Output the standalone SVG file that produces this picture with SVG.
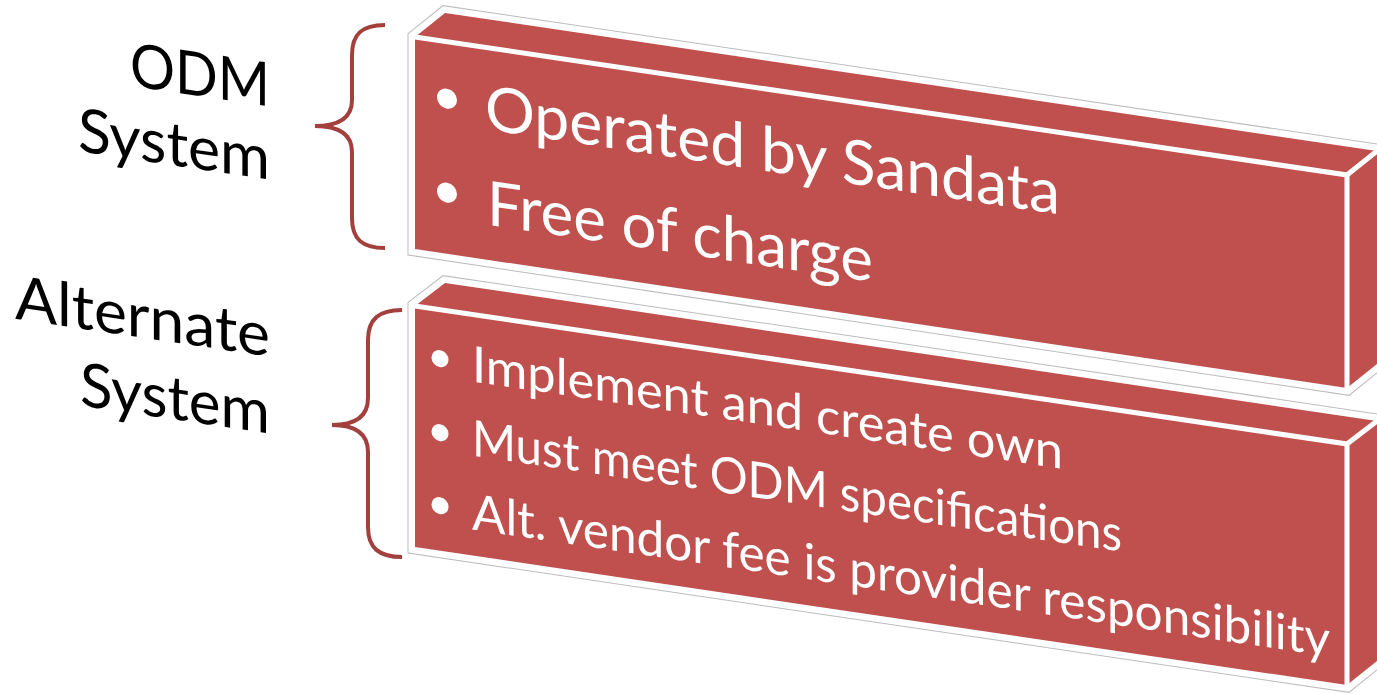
<svg xmlns="http://www.w3.org/2000/svg" width="1377" height="694" viewBox="0 0 1377 694">
  <style>
    .halo1 { fill: none; stroke: #bcbcbc; stroke-width: 15; stroke-linejoin: miter; }
    .halo2 { fill: #ffffff; stroke: #ffffff; stroke-width: 13; stroke-linejoin: miter; }
    .face { fill: #C0504D; }
    .edge { fill: none; stroke: #ffffff; stroke-width: 5; stroke-linecap: butt; }
    .bt1 { font-family: Lato, "Open Sans", sans-serif; font-size: 62px; fill: #ffffff; }
    .bt2 { font-family: Lato, "Open Sans", sans-serif; font-size: 50px; fill: #ffffff; }
    .lbl { font-family: Lato, "Open Sans", sans-serif; font-size: 61px; fill: #000000; }
    .bullet { fill: #ffffff; }
    .brace { fill: none; stroke: #A3403D; stroke-width: 4; stroke-linecap: butt; }
  </style>

  <g id="box-odm">
    <polygon class="halo1" points="415,37 445,13 1377,151 1377,364 1347,388 415,249"/>
    <polygon class="halo2" points="415,37 445,13 1377,151 1377,364 1347,388 415,249"/>
    <polygon class="face" points="415,37 1347,175 1347,388 415,249"/>
    <polygon class="face" points="415,37 445,13 1377,151 1347,175"/>
    <polygon class="face" points="1347,175 1377,151 1377,364 1347,388"/>
    <polyline class="edge" points="415,37 1347,175 1347,388"/>
    <line class="edge" x1="1347" y1="175" x2="1377" y2="151"/>
    <g transform="matrix(1,0.148,0,1,0,-61.42)">
      <circle class="bullet" cx="447" cy="94" r="10"/>
      <text class="bt1" x="485" y="119" textLength="575" lengthAdjust="spacingAndGlyphs">Operated by Sandata</text>
      <circle class="bullet" cx="447" cy="188" r="10"/>
      <text class="bt1" x="487" y="214" textLength="386" lengthAdjust="spacingAndGlyphs">Free of charge</text>
    </g>
  </g>

  <g id="box-alt">
    <polygon class="halo1" points="415,306 445,283 1377,421 1377,661 1347,685 415,547"/>
    <polygon class="halo2" points="415,306 445,283 1377,421 1377,661 1347,685 415,547"/>
    <polygon class="face" points="415,306 1347,444 1347,685 415,547"/>
    <polygon class="face" points="415,306 445,283 1377,421 1347,444"/>
    <polygon class="face" points="1347,444 1377,421 1377,661 1347,685"/>
    <polyline class="edge" points="415,306 1347,444 1347,685"/>
    <line class="edge" x1="1347" y1="444" x2="1377" y2="421"/>
    <g transform="matrix(1,0.148,0,1,0,-61.42)">
      <circle class="bullet" cx="440" cy="355" r="8.5"/>
      <text class="bt2" x="472" y="373" textLength="591" lengthAdjust="spacingAndGlyphs">Implement and create own</text>
      <circle class="bullet" cx="440" cy="429" r="8.5"/>
      <text class="bt2" x="472" y="447" textLength="650" lengthAdjust="spacingAndGlyphs">Must meet ODM specifications</text>
      <circle class="bullet" cx="440" cy="502" r="8.5"/>
      <text class="bt2" x="472" y="521" textLength="858" lengthAdjust="spacingAndGlyphs">Alt. vendor fee is provider responsibility</text>
    </g>
  </g>

  <g id="label-odm" transform="matrix(1,0.148,0,1,0,-61.42)">
    <text class="lbl" x="130" y="128" textLength="140" lengthAdjust="spacingAndGlyphs">ODM</text>
    <text class="lbl" x="78" y="201" textLength="192" lengthAdjust="spacingAndGlyphs">System</text>
  </g>

  <g id="label-alt" transform="matrix(1,0.148,0,1,0,-61.42)">
    <text class="lbl" x="15" y="378" textLength="255" lengthAdjust="spacingAndGlyphs">Alternate</text>
    <text class="lbl" x="80" y="455" textLength="190" lengthAdjust="spacingAndGlyphs">System</text>
  </g>

  <g id="connectors">
    <path class="brace" d="M385,25 C362,25 352,34 352,55 L352,100 C352,117 340,126 315,126 C340,126 352,135 352,152 L352,218 C352,239 362,248 385,248"/>
    <path class="brace" d="M402,310 C379,310 368,319 368,340 L368,398 C368,416 356,425 332,425 C356,425 368,434 368,452 L368,527 C368,548 379,557 402,557"/>
  </g>
</svg>
